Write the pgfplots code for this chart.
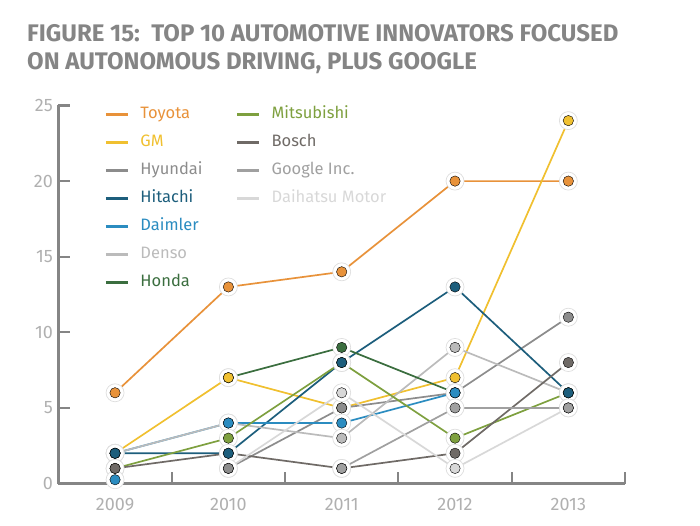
\documentclass[border=0pt]{standalone}
\usepackage{fontspec}
\setmainfont{Fira Sans}
\newfontfamily\titlefont{Fira Sans}
\usepackage{pgfplots}
\usepackage{pgfplotstable}
\pgfplotsset{compat=1.18}

\definecolor{titlegrey}{HTML}{858585}
\definecolor{axisgrey}{HTML}{858585}
\definecolor{labelgrey}{HTML}{B0B0B0}
\definecolor{cToyota}{HTML}{E8923A}
\definecolor{cGM}{HTML}{F0C030}
\definecolor{cHyundai}{HTML}{8C8C8C}
\definecolor{cHitachi}{HTML}{1D5E7C}
\definecolor{cDaimler}{HTML}{2B8CC0}
\definecolor{cDenso}{HTML}{BBBBBB}
\definecolor{cHonda}{HTML}{3B6E3F}
\definecolor{cMitsubishi}{HTML}{7EA03F}
\definecolor{cBosch}{HTML}{6F6A66}
\definecolor{cGoogle}{HTML}{A0A0A0}
\definecolor{cDaihatsu}{HTML}{D8D8D8}

\pgfplotstableread{
x y
0 6
1 13
2 14
3 20
4 20
}\tToyota
\pgfplotstableread{
x y
0 2
1 7
2 5
3 7
4 24
}\tGM
\pgfplotstableread{
x y
1 1
2 5
3 6
4 11
}\tHyundai
\pgfplotstableread{
x y
0 2
1 2
2 8
3 13
4 6
}\tHitachi
\pgfplotstableread{
x y
0 2
1 4
2 4
3 6
}\tDaimler
\pgfplotstableread{
x y
0 0.25
}\tDaimlerExtra
\pgfplotstableread{
x y
0 2
1 4
2 3
3 9
4 6
}\tDenso
\pgfplotstableread{
x y
1 7
2 9
3 6
}\tHonda
\pgfplotstableread{
x y
0 1
1 3
2 8
3 3
4 6
}\tMitsubishi
\pgfplotstableread{
x y
0 1
1 2
2 1
3 2
4 8
}\tBosch
\pgfplotstableread{
x y
2 1
3 5
4 5
}\tGoogle
\pgfplotstableread{
x y
1 1
2 6
3 1
4 5
}\tDaihatsu

\newcommand\serline[2]{%
  \addplot[forget plot, color=#1, line width=1.7pt, mark=*, mark size=9pt,
    mark options={fill=white, draw=black!13, line width=0.7pt}] table {#2};
}
\newcommand\serdot[2]{%
  \addplot[forget plot, only marks, mark=*, mark size=5.2pt,
    mark options={fill=#1, draw=none}] table {#2};
}
\newcommand\leg[2]{%
  \addlegendimage{color=#1}
  \addlegendentry{\textcolor{#1}{#2}}
}
\newcommand\legempty{%
  \addlegendimage{empty legend}
  \addlegendentry{}
}

\begin{document}
\begin{tikzpicture}
\path[use as bounding box] (0,0) rectangle (700pt,525pt);
\node[anchor=base west, inner sep=0pt, text=titlegrey,
  font=\titlefont\bfseries\fontsize{24}{28}\selectfont] at (27pt,483pt)
  {FIGURE 15:\ \ TOP 10 AUTOMOTIVE INNOVATORS FOCUSED};
\node[anchor=base west, inner sep=0pt, text=titlegrey,
  font=\titlefont\bfseries\fontsize{24}{28}\selectfont] at (27pt,455pt)
  {ON AUTONOMOUS DRIVING, PLUS GOOGLE};
\begin{axis}[
  at={(58.4pt,41.5pt)}, anchor=south west,
  scale only axis, width=566.6pt, height=378pt,
  xmin=-0.5, xmax=4.5, ymin=0, ymax=25,
  axis x line=bottom, axis y line=left,
  axis line style={-, line width=2.6pt, color=axisgrey},
  xtick={0.5,1.5,2.5,3.5,4.5}, xticklabels={},
  extra x ticks={0,1,2,3,4},
  extra x tick labels={2009,2010,2011,2012,2013},
  extra x tick style={major tick length=0pt},
  ytick={0,5,10,15,20,25},
  tick style={line width=2.2pt, color=axisgrey},
  major tick length=12pt, tick align=inside,
  /pgf/number format/assume math mode=true,
  tick label style={font=\fontsize{18}{20}\selectfont, text=labelgrey},
  xticklabel style={yshift=-11pt},
  yticklabel style={xshift=-2pt},
  clip=false,
  legend style={at={(0.081,1.003)}, anchor=north west, draw=none, fill=none,
    font=\fontsize{16.5}{20}\selectfont, row sep=8pt, inner sep=0pt,
    nodes={text height=12pt, text depth=4pt},
    /tikz/column 1/.style={column sep=9pt},
    /tikz/column 3/.style={column sep=9pt},
    /tikz/column 2/.style={column sep=31pt}},
  legend columns=2, legend cell align=left,
  legend image code/.code={\draw[#1, line width=3pt] (0pt,0pt) -- (22pt,0pt);},
]
\leg{cToyota}{Toyota}
\leg{cMitsubishi}{Mitsubishi}
\leg{cGM}{GM}
\leg{cBosch}{Bosch}
\leg{cHyundai}{Hyundai}
\leg{cGoogle}{Google Inc.}
\leg{cHitachi}{Hitachi}
\leg{cDaihatsu}{Daihatsu Motor}
\leg{cDaimler}{Daimler}
\legempty
\leg{cDenso}{Denso}
\legempty
\leg{cHonda}{Honda}
\serline{cToyota}{\tToyota}
\serline{cGM}{\tGM}
\serline{cHyundai}{\tHyundai}
\serline{cHitachi}{\tHitachi}
\serline{cDaimler}{\tDaimler}
\serline{cDenso}{\tDenso}
\serline{cHonda}{\tHonda}
\serline{cMitsubishi}{\tMitsubishi}
\serline{cBosch}{\tBosch}
\serline{cGoogle}{\tGoogle}
\serline{cDaihatsu}{\tDaihatsu}
\addplot[forget plot, only marks, mark=*, mark size=9pt,
    mark options={fill=white, draw=black!13, line width=0.7pt}] table {\tDaimlerExtra};
\serdot{cHonda}{\tHonda}
\serdot{cGM}{\tGM}
\serdot{cDenso}{\tDenso}
\serdot{cDaihatsu}{\tDaihatsu}
\serdot{cHyundai}{\tHyundai}
\serdot{cMitsubishi}{\tMitsubishi}
\serdot{cBosch}{\tBosch}
\serdot{cGoogle}{\tGoogle}
\serdot{cDaimler}{\tDaimler}
\serdot{cDaimler}{\tDaimlerExtra}
\serdot{cHitachi}{\tHitachi}
\serdot{cToyota}{\tToyota}
\end{axis}
\end{tikzpicture}
\end{document}
